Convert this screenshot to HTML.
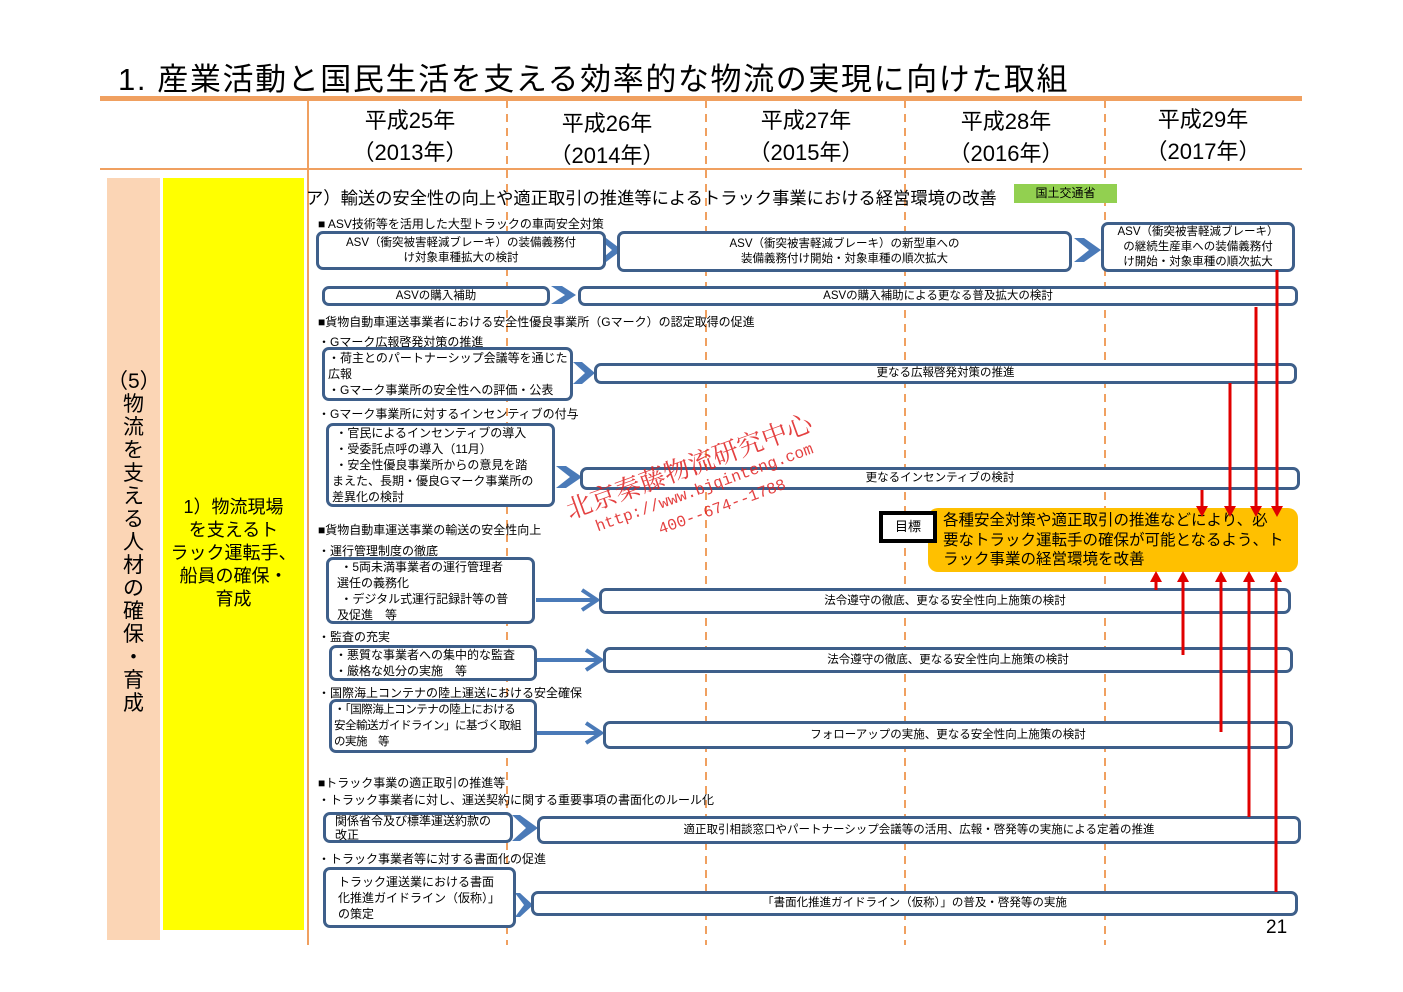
<!DOCTYPE html>
<html><head><meta charset="utf-8"><style>
body{margin:0;width:1403px;height:992px;background:#fff;position:relative;overflow:hidden;font-family:"Liberation Sans","Noto Sans CJK JP",sans-serif;color:#000}
.a{position:absolute}
.b{position:absolute;box-sizing:border-box;border:3px solid #3e5f8a;border-radius:7px;background:#fff;font-size:11.5px;line-height:15px;display:flex;align-items:center;justify-content:center;text-align:center}
.l{justify-content:flex-start;text-align:left;padding-left:3px}
.t{position:absolute;font-size:12px;white-space:nowrap}
.yr{position:absolute;width:160px;text-align:center;font-size:22px;line-height:32px}
</style></head><body>
<div class="a" style="left:118px;top:54px;font-size:31px;letter-spacing:1.6px;white-space:nowrap">1. 産業活動と国民生活を支える効率的な物流の実現に向けた取組</div>
<div class="a" style="left:100px;top:96px;width:1202px;height:5px;background:#f0a060"></div>
<div class="a" style="left:100px;top:168px;width:1202px;height:2px;background:#f0a060"></div>
<div class="yr" style="left:330px;top:105px">平成25年<br>（2013年）</div>
<div class="yr" style="left:527px;top:108px">平成26年<br>（2014年）</div>
<div class="yr" style="left:726px;top:105px">平成27年<br>（2015年）</div>
<div class="yr" style="left:926px;top:106px">平成28年<br>（2016年）</div>
<div class="yr" style="left:1123px;top:104px">平成29年<br>（2017年）</div>
<div class="a" style="left:107px;top:178px;width:53px;height:762px;background:#fbd5b5"></div>
<div class="a" style="left:163px;top:178px;width:141px;height:752px;background:#ffff00"></div>
<div class="a" style="left:107px;top:370px;width:53px;text-align:center;font-size:21px;line-height:23px">（5）<br>物<br>流<br>を<br>支<br>え<br>る<br>人<br>材<br>の<br>確<br>保<br>・<br>育<br>成</div>
<div class="a" style="left:163px;top:496px;width:141px;text-align:center;font-size:18px;line-height:23px">1）物流現場<br>を支えるト<br>ラック運転手、<br>船員の確保・<br>育成</div>
<svg class="a" style="left:0;top:0" width="1403" height="992">
<line x1="308" y1="100" x2="308" y2="945" stroke="#f0a060" stroke-width="2"/>
<g stroke="#f0a060" stroke-width="2" stroke-dasharray="8,6">
<line x1="507" y1="100" x2="507" y2="945"/><line x1="706" y1="100" x2="706" y2="945"/><line x1="905" y1="100" x2="905" y2="945"/><line x1="1105" y1="100" x2="1105" y2="945"/></g>
<g fill="#4a7ab8">
<polygon points="551,286 562,286 576,295 562,304 551,304 565,295"/>
<polygon points="598,238 606,238 622,250 606,262 598,262 612,250"/>
<polygon points="1074,238 1084,238 1101,250 1084,262 1074,262 1089,250"/>
<polygon points="573,362 582,362 595,373 582,384 573,384 585,373"/>
<polygon points="556,466 566,466 582,477 566,488 556,488 570,477"/>
<polygon points="512,815 520,815 538,828 520,841 512,841 526,828"/>
<polygon points="515,893 520,893 533,905 520,917 515,917 524,905"/>
</g>
<g stroke="#4a7ab8" stroke-width="4" fill="none">
<polyline points="536,600 596,600"/><polyline points="582,590 597,600 582,610"/>
<polyline points="537,660 600,660"/><polyline points="586,650 601,660 586,670"/>
<polyline points="537,733 600,733"/><polyline points="586,723 601,733 586,743"/>
</g>
</svg>
<div class="a" style="left:306px;top:184px;font-size:17.3px;white-space:nowrap">ア）輸送の安全性の向上や適正取引の推進等によるトラック事業における経営環境の改善</div>
<div class="a" style="left:1014px;top:184px;width:103px;height:19px;background:#92d050;font-size:12px;line-height:19px;text-align:center">国土交通省</div>
<div class="t" style="left:318px;top:215px">■ ASV技術等を活用した大型トラックの車両安全対策</div>
<div class="t" style="left:318px;top:313px">■貨物自動車運送事業者における安全性優良事業所（Gマーク）の認定取得の促進</div>
<div class="t" style="left:318px;top:333px">・Gマーク広報啓発対策の推進</div>
<div class="t" style="left:318px;top:405px">・Gマーク事業所に対するインセンティブの付与</div>
<div class="t" style="left:318px;top:521px">■貨物自動車運送事業の輸送の安全性向上</div>
<div class="t" style="left:318px;top:542px">・運行管理制度の徹底</div>
<div class="t" style="left:318px;top:628px">・監査の充実</div>
<div class="t" style="left:318px;top:684px">・国際海上コンテナの陸上運送における安全確保</div>
<div class="t" style="left:318px;top:774px">■トラック事業の適正取引の推進等</div>
<div class="t" style="left:318px;top:791px">・トラック事業者に対し、運送契約に関する重要事項の書面化のルール化</div>
<div class="t" style="left:318px;top:850px">・トラック事業者等に対する書面化の促進</div>
<div class="b" style="left:316px;top:231px;width:290px;height:39px">ASV（衝突被害軽減ブレーキ）の装備義務付<br>け対象車種拡大の検討</div>
<div class="b" style="left:617px;top:231px;width:455px;height:41px">ASV（衝突被害軽減ブレーキ）の新型車への<br>装備義務付け開始・対象車種の順次拡大</div>
<div class="b" style="left:1101px;top:222px;width:194px;height:50px;line-height:15px">ASV（衝突被害軽減ブレーキ）<br>の継続生産車への装備義務付<br>け開始・対象車種の順次拡大</div>
<div class="b" style="left:322px;top:286px;width:228px;height:20px">ASVの購入補助</div>
<div class="b" style="left:578px;top:286px;width:720px;height:20px">ASVの購入補助による更なる普及拡大の検討</div>
<div class="b l" style="left:322px;top:347px;width:251px;height:54px;font-size:12px;line-height:16px">・荷主とのパートナーシップ会議等を通じた<br>広報<br>・Gマーク事業所の安全性への評価・公表</div>
<div class="b" style="left:594px;top:363px;width:703px;height:21px">更なる広報啓発対策の推進</div>
<div class="b l" style="left:326px;top:423px;width:229px;height:84px;font-size:12px;line-height:16px">&nbsp;・官民によるインセンティブの導入<br>&nbsp;・受委託点呼の導入（11月）<br>&nbsp;・安全性優良事業所からの意見を踏<br>まえた、長期・優良Gマーク事業所の<br>差異化の検討</div>
<div class="b" style="left:580px;top:467px;width:720px;height:23px">更なるインセンティブの検討</div>
<div class="b l" style="left:326px;top:557px;width:209px;height:67px;font-size:12px;line-height:16px;padding-left:8px">&nbsp;・5両未満事業者の運行管理者<br>選任の義務化<br>&nbsp;・デジタル式運行記録計等の普<br>及促進　等</div>
<div class="b" style="left:599px;top:588px;width:692px;height:26px">法令遵守の徹底、更なる安全性向上施策の検討</div>
<div class="b l" style="left:329px;top:645px;width:208px;height:36px;font-size:12px;line-height:16px">・悪質な事業者への集中的な監査<br>・厳格な処分の実施　等</div>
<div class="b" style="left:603px;top:647px;width:690px;height:26px">法令遵守の徹底、更なる安全性向上施策の検討</div>
<div class="b l" style="left:329px;top:699px;width:208px;height:54px;font-size:11.5px;line-height:16px;letter-spacing:-0.5px;white-space:nowrap;padding-left:2px">・「国際海上コンテナの陸上における<br>安全輸送ガイドライン」に基づく取組<br>の実施　等</div>
<div class="b" style="left:603px;top:721px;width:690px;height:28px">フォローアップの実施、更なる安全性向上施策の検討</div>
<div class="b l" style="left:323px;top:812px;width:190px;height:31px;font-size:12px;line-height:14px;padding-left:9px">関係省令及び標準運送約款の<br>改正</div>
<div class="b" style="left:537px;top:816px;width:764px;height:28px">適正取引相談窓口やパートナーシップ会議等の活用、広報・啓発等の実施による定着の推進</div>
<div class="b l" style="left:323px;top:867px;width:193px;height:61px;font-size:12px;line-height:16px;padding-left:12px">トラック運送業における書面<br>化推進ガイドライン（仮称）」<br>の策定</div>
<div class="b" style="left:531px;top:891px;width:767px;height:25px">「書面化推進ガイドライン（仮称）」の普及・啓発等の実施</div>
<div class="a" style="left:928px;top:508px;width:370px;height:64px;background:#ffc000;border-radius:10px"></div>
<div class="a" style="left:943px;top:511px;width:355px;font-size:15.5px;line-height:19.5px;white-space:nowrap">各種安全対策や適正取引の推進などにより、必<br>要なトラック運転手の確保が可能となるよう、ト<br>ラック事業の経営環境を改善</div>
<div class="a" style="left:879px;top:511px;width:58px;height:32px;box-sizing:border-box;border:4px solid #000;background:#fff;font-size:13px;line-height:24px;text-align:center">目標</div>
<svg class="a" style="left:0;top:0" width="1403" height="992">
<g stroke="#e00000" stroke-width="3">
<line x1="1277" y1="270" x2="1277" y2="508"/><line x1="1256" y1="307" x2="1256" y2="508"/><line x1="1230" y1="383" x2="1230" y2="508"/><line x1="1202" y1="490" x2="1202" y2="508"/>
<line x1="1156" y1="590" x2="1156" y2="580"/><line x1="1183" y1="655" x2="1183" y2="580"/><line x1="1221" y1="732" x2="1221" y2="580"/><line x1="1249" y1="817" x2="1249" y2="580"/><line x1="1276" y1="892" x2="1276" y2="580"/>
</g>
<g fill="#e00000">
<polygon points="1271,506 1283,506 1277,517"/><polygon points="1250,506 1262,506 1256,517"/><polygon points="1224,506 1236,506 1230,517"/><polygon points="1196,506 1208,506 1202,517"/>
<polygon points="1150,582 1162,582 1156,571"/><polygon points="1177,582 1189,582 1183,571"/><polygon points="1215,582 1227,582 1221,571"/><polygon points="1243,582 1255,582 1249,571"/><polygon points="1270,582 1282,582 1276,571"/>
</g>
</svg>
<div class="a" style="left:1266px;top:917px;font-size:19px">21</div>
<div class="a" style="left:560px;top:492px;color:#e02020;transform:rotate(-20deg);transform-origin:left top;font-family:'Noto Serif CJK SC',serif;white-space:nowrap;opacity:.85">
<div style="font-size:26px">北京秦藤物流研究中心</div>
<div style="font-size:16px;margin-left:22px;font-family:'Liberation Mono',monospace">http://www.bjqinteng.com</div>
<div style="font-size:16px;margin-left:80px;margin-top:6px;font-family:'Liberation Mono',monospace">400--674--1788</div>
</div>
</body></html>
